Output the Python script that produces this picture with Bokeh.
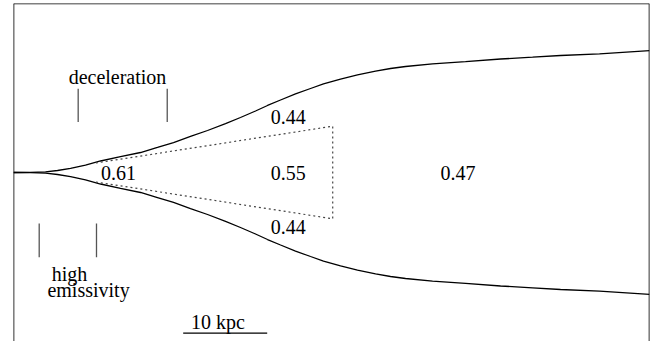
from bokeh.plotting import figure
from bokeh.models import Range1d, Span
from bokeh.core.properties import value
from bokeh.embed import file_html
from bokeh.resources import INLINE

# Jet boundary: distance along the jet (kpc) and half-width of the outer edge (kpc)
jet_x = [0.0, 2.02, 3.81, 5.24, 6.79, 8.57, 10.36, 12.74, 15.12, 17.14, 19.05,
         21.07, 23.10, 25.24, 27.02, 28.81, 30.24, 31.79, 33.57, 35.36, 36.90,
         38.93, 40.95, 43.10, 44.88, 46.67, 49.88, 53.81, 57.98, 61.79, 65.12,
         69.76, 75.71]
jet_r = [0.0, 0.01, 0.08, 0.24, 0.48, 0.89, 1.37, 1.90, 2.38, 2.98, 3.57,
         4.29, 5.00, 5.83, 6.55, 7.32, 7.98, 8.63, 9.35, 10.00, 10.54,
         11.13, 11.61, 12.08, 12.38, 12.62, 12.94, 13.21, 13.51, 13.73, 13.93,
         14.13, 14.52]

# Inner (spine) region outline
spine_x = [9.8, 38.0, 38.0, 9.8]
spine_r = [1.13, 5.51, -5.51, -1.13]

# Velocity labels
vel_labels = ["0.61", "0.55", "0.47", "0.44", "0.44"]
vel_x = [12.5, 32.7, 52.9, 32.7, 32.7]
vel_y = [0.0, 0.0, 0.0, 6.6, -6.5]

# Region markers
decel_ticks_x = [7.7, 18.3]
decel_ticks_y = [6.0, 9.96]
emis_ticks_x = [3.06, 9.88]
emis_ticks_y = [-6.07, -10.08]

scale_len = 10.0
scale_x0 = 20.2
scale_y = -19.13

x_end = 75.71
y_half = 20.12

p = figure(width=664, height=341, output_backend="svg", toolbar_location=None,
           x_range=Range1d(0, x_end), y_range=Range1d(-y_half, y_half),
           min_border_left=13, min_border_right=15, min_border_top=3,
           min_border_bottom=0, x_axis_location=None, y_axis_location=None,
           background_fill_color="white", border_fill_color="white")
p.grid.visible = False
p.outline_line_color = None

# frame edges (left, right, top)
for loc in (0, x_end):
    p.add_layout(Span(location=loc, dimension="height", line_color="black", line_width=1.6))
p.add_layout(Span(location=y_half, dimension="width", line_color="black", line_width=1.6))

# jet edges
p.line(jet_x, jet_r, line_color="black", line_width=1.3)
p.line(jet_x, [-r for r in jet_r], line_color="black", line_width=1.3)

# spine region
p.line(spine_x, spine_r, line_color="#444444", line_width=1.2, line_dash="2 3")

font = value("Liberation Serif")
fs = "20px"

p.text(x=vel_x, y=vel_y, text=vel_labels, text_font=font, text_font_size=fs,
       text_align="center", text_baseline="middle", text_color="black")

# deceleration markers
for xv in decel_ticks_x:
    p.line([xv, xv], decel_ticks_y, line_color="#555555", line_width=1.3)
p.text(x=[12.38], y=[11.4], text=["deceleration"], text_font=font, text_font_size=fs,
       text_align="center", text_baseline="alphabetic", text_color="black")

# high-emissivity markers
for xv in emis_ticks_x:
    p.line([xv, xv], emis_ticks_y, line_color="#555555", line_width=1.3)
p.text(x=[6.67, 8.93], y=[-12.06, -13.93], text=["high", "emissivity"], text_font=font,
       text_font_size=fs, text_align="center", text_baseline="alphabetic",
       text_color="black")

# scale bar
p.line([scale_x0, scale_x0 + scale_len], [scale_y, scale_y], line_color="black", line_width=1.3)
p.text(x=[scale_x0 + 4.15], y=[-17.74], text=["10 kpc"], text_font=font, text_font_size=fs,
       text_align="center", text_baseline="alphabetic", text_color="black")

open("out.html", "w").write(file_html(p, INLINE))
